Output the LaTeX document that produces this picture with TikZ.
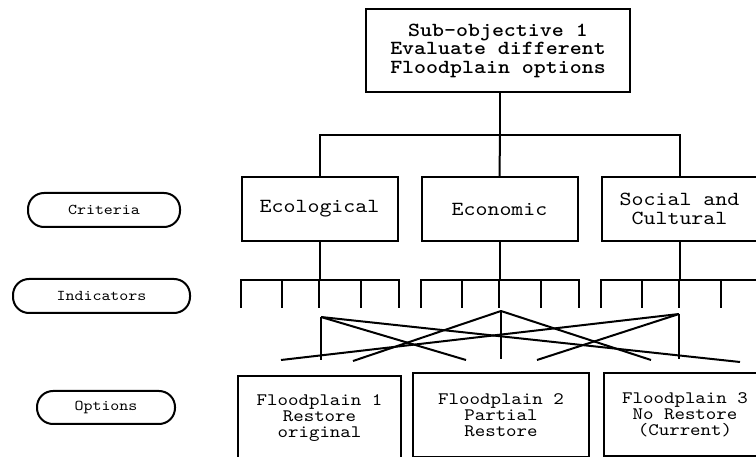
\documentclass[tikz,border=0pt]{standalone}
\usepackage{fontspec}
\setmonofont{lmmono10-regular.otf}[BoldFont=lmmonolt10-bold.otf,FakeStretch=1.14]
\usepackage{tikz}
\usetikzlibrary{positioning}

\begin{document}
\begin{tikzpicture}[x=1pt,y=-1pt,
            line width=2pt,
            box/.style={draw,rectangle,inner sep=0pt,align=center,font=\ttfamily\fontsize{20}{18.5}\selectfont},
            goal/.style={box,minimum width=264,minimum height=83,font=\ttfamily\bfseries\fontsize{20}{18.5}\selectfont},
            crit/.style={box,minimum width=156,minimum height=64},
            opt/.style={box,minimum height=83,font=\ttfamily\fontsize{17.5}{16}\selectfont},
            lab/.style={draw,rectangle,rounded corners=16,minimum height=34,inner sep=0pt,font=\ttfamily\fontsize{15}{15}\selectfont}
          ]
          \useasboundingbox (0,0) rectangle (756,457);
          \clip (0,0) rectangle (756,457);

          \node[goal] (goal) at (498,50.5) {Sub-objective 1\\Evaluate different\\Floodplain options};

          %criteria
          \node[crit] (eco) at (319.5,209) {Ecological};
          \node[crit] (econ) at (499.5,209) {Economic};
          \node[crit] (soc) at (679.5,209) {Social and\\Cultural};

          %options
          \node[opt,minimum width=163,minimum height=85] (fp1) at (319.5,418.5) {Floodplain 1\\Restore\\original};
          \node[opt,minimum width=176] (fp2) at (501,415) {Floodplain 2\\Partial\\Restore};
          \node[opt,minimum width=162] (fp3) at (685,414.5) {Floodplain 3\\No Restore\\(Current)};

          %labels
          \node[lab,minimum width=152] (critlab) at (104,210) {Criteria};
          \node[lab,minimum width=177] (indlab) at (101.5,296) {Indicators};
          \node[lab,minimum width=138,minimum height=33] (optlab) at (106,407.5) {Options};

          %tree
          \coordinate (bar) at (500,135);
          \draw (goal.south -| bar) -- (bar);
          \draw (eco.north) |- (bar) -| (soc.north);
          \draw (bar) -- (econ.north);

          %indicators
          \foreach \c in {eco,econ,soc}{
            \draw (\c.south) -- ++(0,38);
            \draw ([yshift=-66pt]\c.south west) -- ++(0,-28) -- ([yshift=-38pt]\c.south east) -- ++(0,28);
            \foreach \dx in {41,78,120}
              \draw ([xshift=\dx pt,yshift=-38pt]\c.south west) -- ++(0,28);
          }

          %links to options
          \coordinate (t1) at (321,317); \coordinate (b1) at (321,360);
          \coordinate (t2) at (501,311); \coordinate (b2) at (501,359);
          \coordinate (t3) at (679,314); \coordinate (b3) at (679,359);
          \coordinate (e1) at (281,360); \coordinate (e2) at (353,361);
          \coordinate (e3) at (466,360); \coordinate (e4) at (537,360);
          \coordinate (e5) at (651,360); \coordinate (e6) at (740,362);
          \path
          (t1) edge (b1)
          (t1) edge (e3)
          (t1) edge (e6)

          (t2) edge (b2)
          (t2) edge (e2)
          (t2) edge (e5)

          (t3) edge (b3)
          (t3) edge (e1)
          (t3) edge (e4)
          ;

      \end{tikzpicture}
\end{document}
